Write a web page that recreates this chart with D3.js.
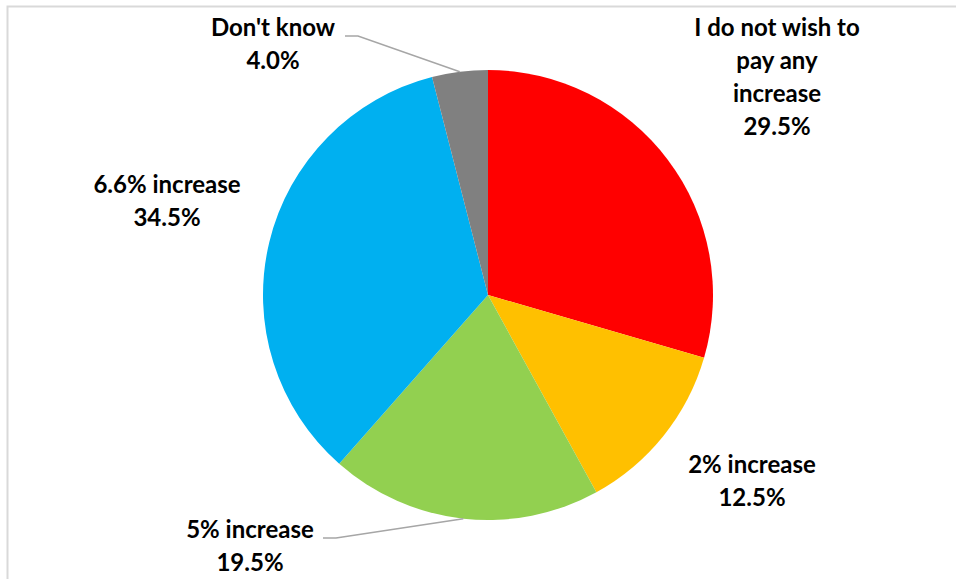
<!DOCTYPE html>
<html>
<head>
<meta charset="utf-8">
<script src="https://cdn.jsdelivr.net/npm/d3@7"></script>
<style>
  html, body { margin: 0; padding: 0; background: #fff; }
  svg text { font-family: Lato, "Open Sans", sans-serif; font-weight: bold; font-size: 24px; fill: #000; }
</style>
</head>
<body>
<svg id="chart" width="956" height="579"></svg>
<script>
// data
const categories = ['I do not wish to pay any increase', '2% increase', '5% increase', '6.6% increase', "Don't know"];
const values = [29.5, 12.5, 19.5, 34.5, 4.0];
const labelLines = [
  ['I do not wish to', 'pay any', 'increase'],
  ['2% increase'],
  ['5% increase'],
  ['6.6% increase'],
  ["Don't know"]
];
const colors = ['#ff0000', '#ffc000', '#92d050', '#00b0f0', '#808080'];

// label layout (centre x, first baseline y, leader line?)
const labelPos = [
  { x: 777, y: 36, leader: false },
  { x: 752, y: 473, leader: false },
  { x: 250, y: 538, leader: true, lx: 323 },
  { x: 167, y: 193, leader: false },
  { x: 273, y: 36, leader: true, lx: 345 }
];

const width = 956;
const height = 579;
const cx = 488;
const cy = 295;
const radius = 225;
const lineHeight = 33;

const svg = d3.select('#chart');

// frame
svg.append('rect')
  .attr('x', 7.5)
  .attr('y', 6.5)
  .attr('width', width + 10)
  .attr('height', height + 10)
  .attr('fill', 'none')
  .attr('stroke', '#d9d9d9')
  .attr('stroke-width', 2);

const pie = d3.pie().sort(null).value(d => d);
const arcs = pie(values);

const arc = d3.arc().innerRadius(0).outerRadius(radius);
const edgeArc = d3.arc().innerRadius(radius).outerRadius(radius);

const g = svg.append('g')
  .attr('transform', `translate(${cx}, ${cy})`);

g.selectAll('path.slice')
  .data(arcs)
  .enter()
  .append('path')
  .attr('class', 'slice')
  .attr('fill', (d, i) => colors[i])
  .attr('d', arc);

// leader lines
arcs.forEach((d, i) => {
  const p = labelPos[i];
  if (!p.leader) return;
  const [ex, ey] = edgeArc.centroid(d);
  const y0 = p.y;
  svg.append('polyline')
    .attr('points', `${p.lx},${y0} ${p.lx + 13},${y0} ${cx + ex},${cy + ey}`)
    .attr('fill', 'none')
    .attr('stroke', '#a6a6a6')
    .attr('stroke-width', 1.5);
});

// labels
arcs.forEach((d, i) => {
  const p = labelPos[i];
  const lines = labelLines[i].concat([d3.format('.1f')(values[i]) + '%']);
  const t = svg.append('text')
    .attr('text-anchor', 'middle')
    .attr('x', p.x)
    .attr('y', p.y);
  lines.forEach((s, k) => {
    t.append('tspan')
      .attr('x', p.x)
      .attr('dy', k === 0 ? 0 : lineHeight)
      .text(s);
  });
});
</script>
</body>
</html>
